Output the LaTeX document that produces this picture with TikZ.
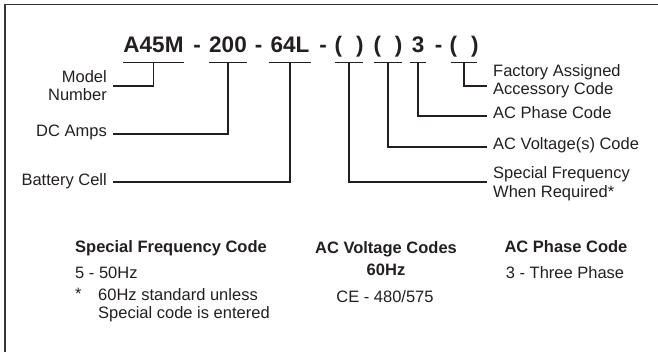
\documentclass[tikz,border=0pt]{standalone}
\usepackage{fontspec}
\setmainfont{Liberation Sans}
\definecolor{ink}{HTML}{231F20}
\begin{document}
\begin{tikzpicture}[x=1pt,y=-1pt,
  codeseg/.style={font=\fontsize{22.5}{26}\selectfont\bfseries, inner sep=0pt, anchor=base, text depth=9pt, text=ink},
  dashc/.style={font=\fontsize{22.5}{26}\selectfont\bfseries, inner sep=0pt, anchor=base, text=ink},
  lbl/.style={font=\fontsize{16.5}{18}\selectfont, inner sep=0pt, text=ink},
  headtxt/.style={font=\fontsize{16.5}{22}\selectfont\bfseries, inner sep=0pt, text=ink, align=center},
  uline/.style={draw=ink, line width=1.2pt},
  conn/.style={draw=ink, line width=1.6pt},
  outerframe/.style={draw=ink!90, line width=1.5pt}]
\useasboundingbox (0,0) rectangle (658,352);
\coordinate (fBL) at (4.75,353);
\coordinate (fTL) at (4.75,4.75);
\coordinate (fTR) at (659,4.75);
\draw[outerframe] (fBL) -- (fTL) -- (fTR);

% title code segments
\node[codeseg, minimum width=61pt] (tA) at (153.5,53) {\makebox[0pt]{A45M}};
\node[codeseg, minimum width=38pt] (tB) at (228,53) {\makebox[0pt]{200}};
\node[codeseg, minimum width=42pt] (tC) at (290,53) {\makebox[0pt]{64L}};
\node[codeseg, minimum width=28pt] (tD) at (349,53) {\makebox[0pt]{(\hspace{14pt})}};
\node[codeseg, minimum width=28pt] (tE) at (388,53) {\makebox[0pt]{(\hspace{14pt})}};
\node[codeseg, minimum width=16pt] (tF) at (418,53) {\makebox[0pt]{3}};
\node[codeseg, minimum width=26pt] (tG) at (464,53) {\makebox[0pt]{(\hspace{14pt})}};
\node[dashc] (d1) at (197,53) {-};
\node[dashc] (d2) at (258.5,53) {-};
\node[dashc] (d3) at (323,53) {-};
\node[dashc] (d4) at (438.5,53) {-};
\foreach \n in {tA,tB,tC,tD,tE,tF,tG}
  \draw[uline] (\n.south west) -- (\n.south east);

% labels
\node[lbl, anchor=north east, align=right] (lModel) at (107,70.5) {Model\\Number};
\node[lbl, anchor=base east] (lDC) at (107,137) {DC Amps};
\node[lbl, anchor=base east] (lBat) at (107,186) {Battery Cell};
\node[lbl, anchor=north west, align=left] (lFac) at (493,64.5) {Factory Assigned\\Accessory Code};
\node[lbl, anchor=base west] (lPh) at (493,119) {AC Phase Code};
\node[lbl, anchor=base west] (lVo) at (493,150) {AC Voltage(s) Code};
\node[lbl, anchor=north west, align=left, font=\fontsize{16.5}{19}\selectfont] (lSF) at (493,166.5) {Special Frequency\\When Required*};

% connector ends
\coordinate (eModel) at (113,86);
\coordinate (eDC) at (113,134);
\coordinate (eBat) at (113,182);
\coordinate (eFac) at (487,86);
\coordinate (ePh) at (487,116);
\coordinate (eVo) at (487,147);
\coordinate (eSF) at (487,182);
\draw[conn] (tA.south) |- (eModel);
\draw[conn] (tB.south) |- (eDC);
\draw[conn] (tC.south) |- (eBat);
\draw[conn] (tG.south) |- (eFac);
\draw[conn] (tF.south) |- (ePh);
\draw[conn] (tE.south) |- (eVo);
\draw[conn] (tD.south) |- (eSF);

% legend
\node[headtxt, anchor=base west] (hSF) at (75,253) {Special Frequency Code};
\node[lbl, anchor=base west] (sf5) at (75,279) {5 - 50Hz};
\node[lbl, anchor=base west] (star) at (75,300) {*};
\node[lbl, anchor=north west, align=left] (note) at (98,288.5) {60Hz standard unless\\Special code is entered};
\node[headtxt, anchor=north] (hAV) at (386,241.5) {AC Voltage Codes\\60Hz};
\node[lbl, anchor=base] (ce) at (385,302) {CE - 480/575};
\node[headtxt, anchor=base] (hPh) at (566,253) {AC Phase Code};
\node[lbl, anchor=base] (p3) at (565,279) {3 - Three Phase};
\end{tikzpicture}
\end{document}
